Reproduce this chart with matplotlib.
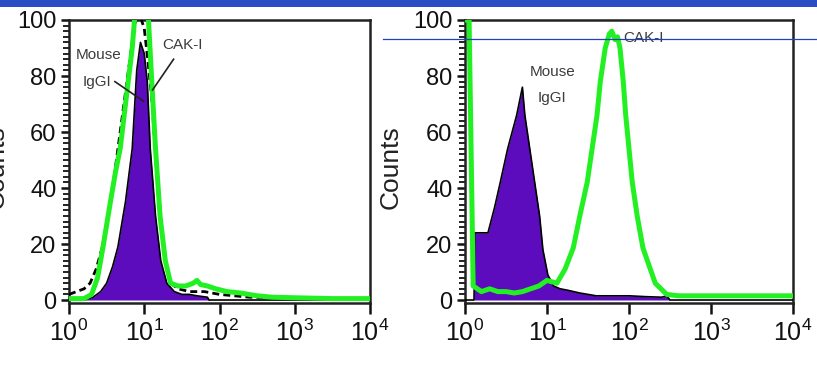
import numpy as np
import matplotlib
matplotlib.use("Agg")
import matplotlib.pyplot as plt
from matplotlib.ticker import FixedLocator, MultipleLocator, LogLocator, NullFormatter
from matplotlib.lines import Line2D
from matplotlib.patches import Rectangle

plt.rcParams['font.family'] = ['Liberation Sans', 'DejaVu Sans']
plt.rcParams['mathtext.fontset'] = 'custom'
plt.rcParams['mathtext.rm'] = 'Liberation Sans'
plt.rcParams['mathtext.it'] = 'Liberation Sans'

# ---------------- data (x as log10 fluorescence) ----------------
# Left panel
left_igg_logx = [0.0, 0.2, 0.32, 0.42, 0.5, 0.58, 0.65, 0.75, 0.84, 0.9, 0.95, 1.0, 1.04,
                 1.08, 1.15, 1.22, 1.3, 1.4, 1.5, 1.6, 1.7, 1.84, 1.86, 4.0]
left_igg_y = [0, 0, 1, 3, 6, 12, 19, 35, 54, 82, 92, 88, 78,
              54, 30, 14, 6, 3, 2, 2, 1.5, 1, 0, 0]

left_dash_logx = [0.0, 0.1, 0.2, 0.28, 0.36, 0.44, 0.52, 0.6, 0.65, 0.72, 0.77, 0.82, 0.86,
                  0.9, 0.95, 1.0, 1.05, 1.1, 1.15, 1.2, 1.28, 1.35, 1.45, 1.6, 1.8, 2.0,
                  2.4, 3.0, 4.0]
left_dash_y = [2, 3, 4, 6, 11, 18.6, 30, 44, 54, 68, 78, 88, 96,
               101, 101, 97, 85, 72, 52, 32, 14, 6, 4, 3, 3, 2,
               1, 0.5, 0.5]

left_cak_logx = [0.0, 0.2, 0.3, 0.38, 0.45, 0.55, 0.62, 0.68, 0.76, 0.84, 0.88, 0.95, 1.05,
                 1.1, 1.15, 1.21, 1.28, 1.35, 1.45, 1.55, 1.65, 1.7, 1.75, 1.84, 1.95,
                 2.1, 2.28, 2.5, 2.7, 3.0, 3.5, 4.0]
left_cak_y = [0.5, 0.5, 2, 8, 18.6, 35, 46, 54, 72, 90, 103, 104, 103,
              78, 54, 30, 14, 6, 5, 5, 6, 7, 5.5, 5, 4,
              3, 2.5, 1.5, 1, 0.8, 0.5, 0.5]

# Right panel
right_igg_logx = [0.0, 0.11, 0.12, 0.2, 0.28, 0.36, 0.43, 0.52, 0.63, 0.7, 0.73, 0.79, 0.85,
                  0.91, 0.95, 1.01, 1.08, 1.16, 1.25, 1.4, 1.6, 1.8, 2.0, 2.2, 2.4, 2.46,
                  2.5, 4.0]
right_igg_y = [0, 0, 24, 24, 24, 33, 42, 54, 66, 76, 66, 54, 42,
               30, 18, 9, 5, 4, 3.5, 2.5, 1.5, 1.5, 1.5, 1.2, 1, 1.5,
               0, 0]

right_cak_logx = [0.0, 0.05, 0.1, 0.2, 0.3, 0.4, 0.5, 0.6, 0.7, 0.8, 0.9, 1.0, 1.12,
                  1.22, 1.32, 1.4, 1.49, 1.55, 1.61, 1.65, 1.71, 1.76, 1.79, 1.83, 1.86,
                  1.89, 1.93, 1.96, 2.0, 2.04, 2.1, 2.17, 2.32, 2.46, 2.6, 3.0, 3.5, 4.0]
right_cak_y = [100, 100, 5, 3, 4, 3, 3, 2.5, 3, 4, 5, 7, 6,
               11, 18.6, 30, 42, 54, 66, 78, 90, 95, 96, 93, 94,
               90, 78, 66, 54, 42, 30, 18.6, 6, 2, 1.5, 1.5, 1.5, 1.5]

y_ticks = [0, 20, 40, 60, 80, 100]
x_ticks = [1, 10, 100, 1000, 10000]
x_ticklabels = [r'$10^0$', r'$10^1$', r'$10^2$', r'$10^3$', r'$10^4$']

PURPLE = '#5c0cbc'
GREEN = '#22f022'
TXT = '#3c3c3c'

W, H = 817, 370
fig = plt.figure(figsize=(W / 100, H / 100), dpi=100)

# top blue band
fig.patches.append(Rectangle((0, 1 - 7 / H), 1, 7 / H, transform=fig.transFigure,
                             facecolor='#2a4cc4', edgecolor='none', zorder=0))


def make_ax(left_px, right_px):
    top_px, bot_px = 20, 303
    ax = fig.add_axes([left_px / W, (H - bot_px) / H, (right_px - left_px) / W,
                       (bot_px - top_px) / H])
    ax.set_xscale('log')
    ax.set_xlim(1, 1e4)
    ax.set_ylim(-1.07, 100)
    ax.xaxis.set_major_locator(FixedLocator(x_ticks))
    ax.set_xticklabels(x_ticklabels)
    ax.xaxis.set_minor_locator(LogLocator(base=10, subs=np.arange(2, 10)))
    ax.xaxis.set_minor_formatter(NullFormatter())
    ax.yaxis.set_major_locator(FixedLocator(y_ticks))
    ax.yaxis.set_minor_locator(MultipleLocator(2))
    ax.tick_params(which='major', direction='out', length=6, width=1.8,
                   labelsize=17, pad=3, colors='#111111')
    ax.tick_params(axis='x', which='major', labelsize=18, pad=4, length=8)
    ax.tick_params(which='minor', direction='out', length=4, width=1.3, colors='#111111')
    ax.tick_params(axis='x', which='minor', length=6)
    for s in ax.spines.values():
        s.set_linewidth(1.8)
        s.set_color('#222222')
    return ax


# ---------- left panel ----------
axL = make_ax(69, 370)
x = 10 ** np.array(left_igg_logx)
axL.fill_between(x, left_igg_y, 0, color=PURPLE, lw=0, zorder=2)
axL.plot(x, left_igg_y, color='black', lw=1.2, zorder=3)
axL.plot(10 ** np.array(left_dash_logx), left_dash_y, color='black', lw=2.0,
         ls=(0, (2.5, 1.5)), zorder=3)
axL.plot(10 ** np.array(left_cak_logx), left_cak_y, color=GREEN, lw=3.6, zorder=4,
         solid_joinstyle='round')
axL.text(10 ** 0.39, 87.5, 'Mouse', fontsize=11, color=TXT, ha='center', va='center', zorder=6)
axL.text(10 ** 0.37, 78, 'IgGI', fontsize=11, color=TXT, ha='center', va='center', zorder=6)
axL.text(10 ** 1.51, 91, 'CAK-I', fontsize=11, color=TXT, ha='center', va='center', zorder=6)
axL.plot([10 ** 0.61, 10 ** 0.99], [78, 71], color='#222222', lw=1.2, zorder=5)
axL.plot([10 ** 1.39, 10 ** 1.11], [86, 75], color='#222222', lw=1.2, zorder=5)

# ---------- right panel ----------
axR = make_ax(465, 793)
x = 10 ** np.array(right_igg_logx)
axR.fill_between(x, right_igg_y, 0, color=PURPLE, lw=0, zorder=2)
axR.plot(x, right_igg_y, color='black', lw=1.2, zorder=3)
axR.plot(10 ** np.array(right_cak_logx), right_cak_y, color=GREEN, lw=3.6, zorder=4,
         solid_joinstyle='round')
axR.text(10 ** 1.07, 81.4, 'Mouse', fontsize=11, color=TXT, ha='center', va='center', zorder=6)
axR.text(10 ** 1.06, 72, 'IgGI', fontsize=11, color=TXT, ha='center', va='center', zorder=6)
axR.text(10 ** 1.93, 93.6, 'CAK-I', fontsize=11, color=TXT, ha='left', va='center', zorder=6)

# y labels (left one is partly cut off at the image edge, as in the source)
fig.text(-3 / W, 1 - 167 / H, 'Counts', rotation=90, fontsize=19, color='#222222',
         ha='center', va='center')
fig.text(391 / W, 1 - 167 / H, 'Counts', rotation=90, fontsize=19, color='#222222',
         ha='center', va='center')

# thin blue line artifact
fig.add_artist(Line2D([383 / W, 1], [1 - 38.5 / H, 1 - 38.5 / H], transform=fig.transFigure,
                      color='#2040c0', lw=0.9, zorder=10))

fig.savefig('out.png', dpi=100)
